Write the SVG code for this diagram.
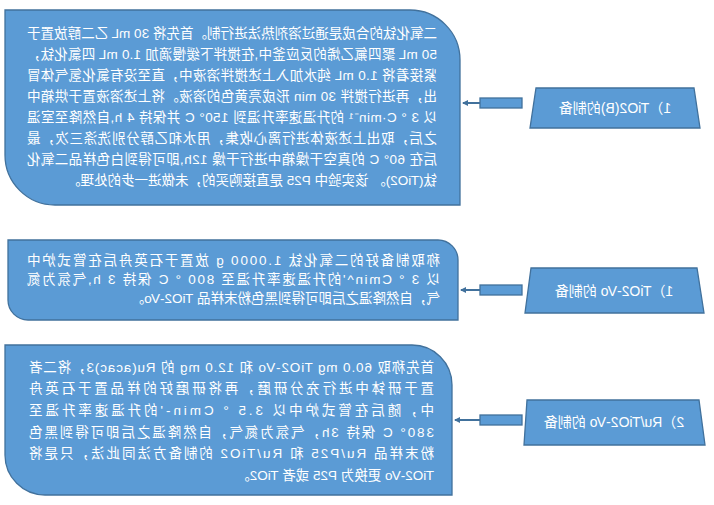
<svg xmlns="http://www.w3.org/2000/svg" width="714" height="505" viewBox="0 0 714 505">
<defs>
<style>
.box{fill:#5B9BD5;stroke:#41719C;stroke-width:1.3}
.t{fill:#fff;font-family:"Liberation Sans","Noto Sans CJK SC",sans-serif;font-size:13.5px}
.l{fill:#fff;font-family:"Liberation Sans","Noto Sans CJK SC",sans-serif;font-size:14px;text-anchor:middle}
.bar{fill:#5B9BD5;stroke:#41719C;stroke-width:1.3}
.ln{stroke:#41719C;stroke-width:2;marker-end:url(#ah)}
</style>
<marker id="ah" markerWidth="6" markerHeight="6" refX="5" refY="3" orient="auto" markerUnits="userSpaceOnUse"><path d="M0,0 L6,3 L0,6 Z" fill="#41719C"/></marker>
</defs>
<g transform="matrix(-1 0 0 1 714 0)">
<g id="box1">
<path class="box" d="M304 10 H709 V155 A50 50 0 0 1 659 205 H254 V60 A50 50 0 0 1 304 10 Z"/>
<text class="t" x="277" y="38" textLength="410" lengthAdjust="spacing">二氧化钛的合成是通过溶剂热法进行制。首先将 30 mL 乙二醇放置于</text>
<text class="t" x="277" y="59" textLength="410" lengthAdjust="spacing">50 mL 聚四氟乙烯的反应釜中,在搅拌下缓慢滴加 1.0 mL 四氯化钛，</text>
<text class="t" x="277" y="80" textLength="410" lengthAdjust="spacing">紧接着将 1.0 mL 纯水加入上述搅拌溶液中，直至没有氯化氢气体冒</text>
<text class="t" x="277" y="101" textLength="410" lengthAdjust="spacing">出，再进行搅拌 30 min 形成亮黄色的溶液。将上述溶液置于烘箱中</text>
<text class="t" x="277" y="122" textLength="410" lengthAdjust="spacing">以 3 ° C·min⁻¹ 的升温速率升温到 150° C 并保持 4 h,自然降至室温</text>
<text class="t" x="277" y="143" textLength="410" lengthAdjust="spacing">之后，取出上述液体进行离心收集，用水和乙醇分别洗涤三次，最</text>
<text class="t" x="277" y="164" textLength="410" lengthAdjust="spacing">后在 60° C 的真空干燥箱中进行干燥 12h,即可得到白色样品二氧化</text>
<text class="t" x="277" y="185">钛(TiO2)。 该实验中 P25 是直接购买的，未做进一步的处理。</text>
</g>
<g id="label1">
<path class="box" d="M20 88 H178 L184 128 H14 Z"/>
<text class="l" x="99" y="113">1）TiO2(B)的制备</text>
</g>
<g id="box2">
<path class="box" d="M276 240 H706 V300 A20 20 0 0 1 686 320 H256 V260 A20 20 0 0 1 276 240 Z"/>
<text class="t" x="274" y="265" textLength="413" lengthAdjust="spacing">称取制备好的二氧化钛 1.0000 g 放置于石英舟后在管式炉中</text>
<text class="t" x="274" y="284" textLength="413" lengthAdjust="spacing">以 3 ° Cmin^'的升温速率升温至 800 ° C 保持 3 h,气氛为氮</text>
<text class="t" x="274" y="303">气，自然降温之后即可得到黑色粉末样品 TiO2-Vo。</text>
</g>
<g id="label2">
<path class="box" d="M17 268 H183 L189 313 H10 Z"/>
<text class="l" x="100" y="296">1）TiO2-Vo 的制备</text>
</g>
<g id="box3">
<path class="box" d="M302 345 H709 V455 A40 40 0 0 1 669 495 H262 V385 A40 40 0 0 1 302 345 Z"/>
<text class="t" x="280" y="372" textLength="405" lengthAdjust="spacing">首先称取 60.0 mg TiO2-Vo 和 12.0 mg 的 Ru(acac)3，将二者</text>
<text class="t" x="280" y="393" textLength="405" lengthAdjust="spacing">置于研钵中进行充分研磨，再将研磨好的样品置于石英舟</text>
<text class="t" x="280" y="415" textLength="405" lengthAdjust="spacing">中，随后在管式炉中以 3.5 ° Cmin-'的升温速率升温至</text>
<text class="t" x="280" y="437" textLength="405" lengthAdjust="spacing">380° C 保持 3h，气氛为氮气，自然降温之后即可得到黑色</text>
<text class="t" x="280" y="458" textLength="405" lengthAdjust="spacing">粉末样品 Ru/P25 和 Ru/TiO2 的制备方法同此法，只是将</text>
<text class="t" x="280" y="480">TiO2-Vo 更换为 P25 或者 TiO2。</text>
</g>
<g id="label3">
<path class="box" d="M15 400 H187 L190 445 H9 Z"/>
<text class="l" x="100" y="427">2）Ru/TiO2-Vo 的制备</text>
</g>
<g id="connectors">
<rect class="bar" x="192" y="98" width="42" height="10"/>
<line class="ln" x1="234" y1="103" x2="251" y2="103"/>
<rect class="bar" x="192" y="285" width="42" height="10"/>
<line class="ln" x1="234" y1="290" x2="253" y2="290"/>
<rect class="bar" x="192" y="415" width="42" height="10"/>
<line class="ln" x1="234" y1="420" x2="259" y2="420"/>
</g>
</g>
</svg>
